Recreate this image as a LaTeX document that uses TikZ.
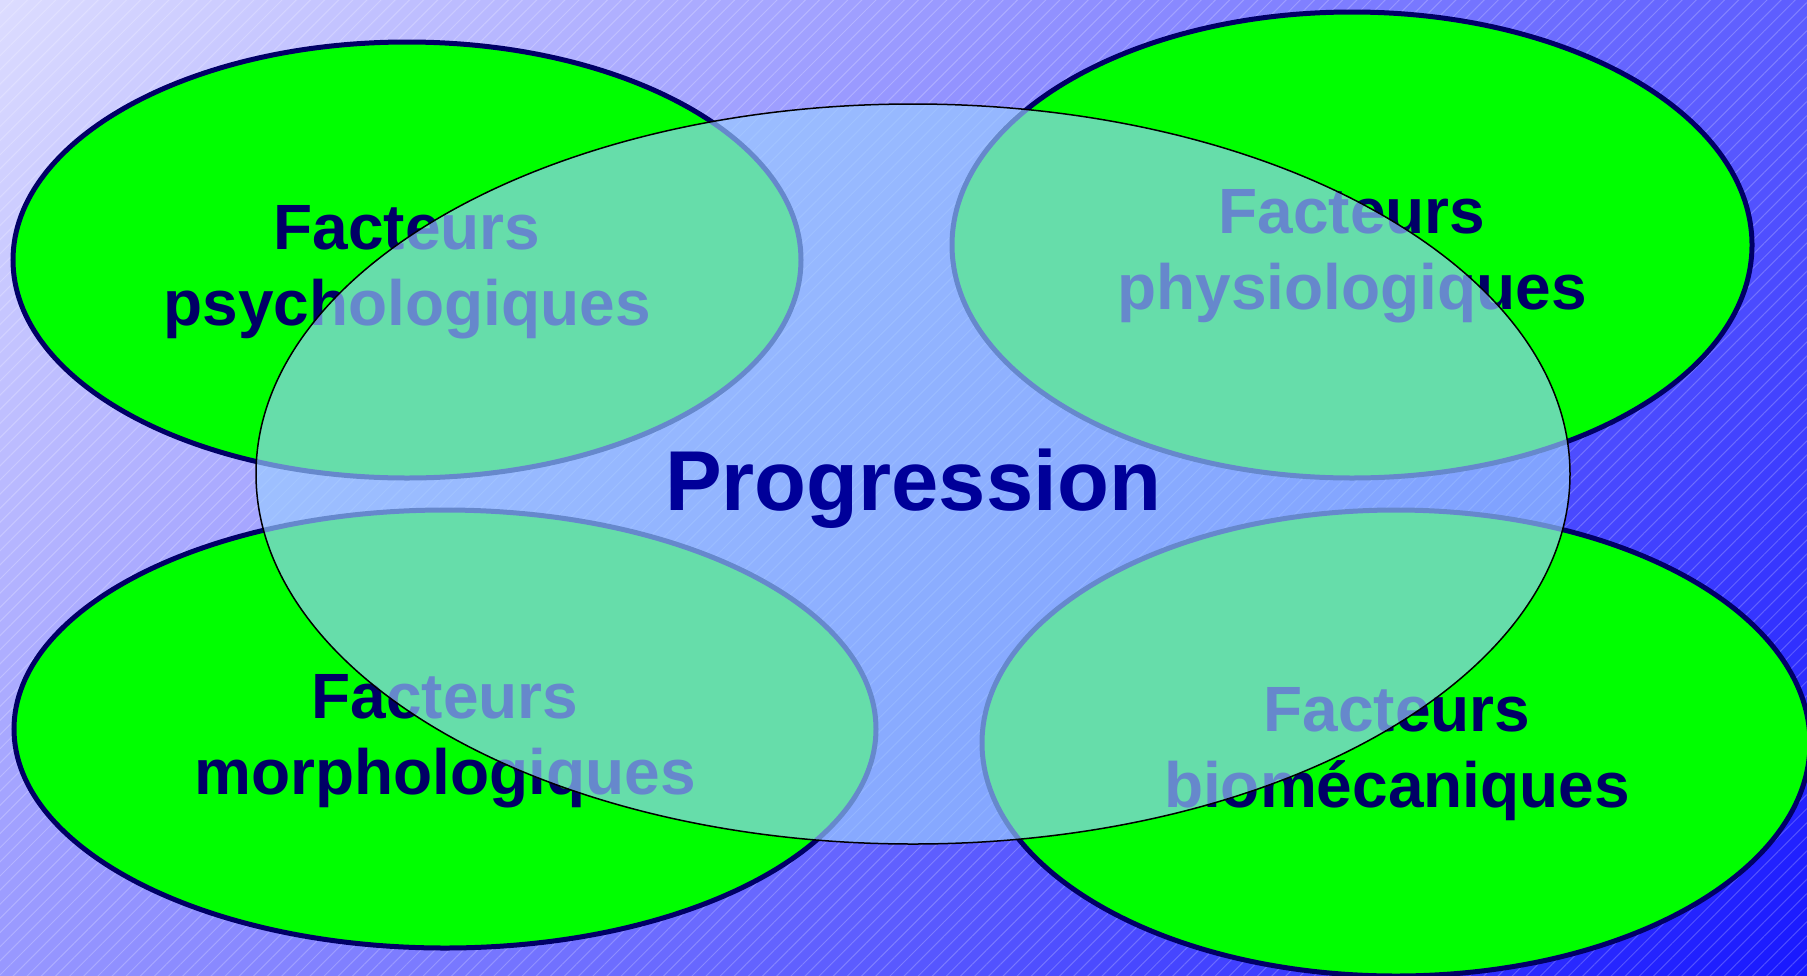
\documentclass[tikz,border=0pt]{standalone}
\usepackage{fontspec}
\setmainfont{Liberation Sans}
\usetikzlibrary{shapes.geometric,patterns.meta}

\definecolor{navy}{HTML}{000066}
\definecolor{progblue}{HTML}{000099}
\definecolor{veil}{HTML}{99CCFF}
\definecolor{bgtop}{HTML}{DCDCFF}
\definecolor{bgbot}{HTML}{1818FF}

\tikzset{
  facteur/.style={ellipse, draw=navy, line width=5pt, fill=green, inner sep=0pt},
  facteurtext/.style={text=navy, font=\fontsize{64}{76}\selectfont\bfseries, align=center},
}

\begin{document}
\begin{tikzpicture}[x=1pt,y=-1pt]
\useasboundingbox (0,0) rectangle (1807,975);
% fond
\begin{scope}
\clip (0,0) rectangle (1807,975);
\shade[top color=bgtop, bottom color=bgbot, shading angle=45] (903.5,487.5) ++(-983.5,-983.5) rectangle ++(1967,1967);
\fill[pattern={Lines[angle=45,distance=10pt,line width=1pt]}, pattern color=white, opacity=0.22] (0,0) rectangle (1807,975);
\end{scope}
% les quatre facteurs
\node[facteur, minimum width=788pt, minimum height=436pt] (psycho) at (407,260) {};
\node[facteur, minimum width=800pt, minimum height=466pt] (physio) at (1352,245) {};
\node[facteur, minimum width=862pt, minimum height=438pt] (morpho) at (445,729) {};
\node[facteur, minimum width=828pt, minimum height=466pt] (biomeca) at (1396,743) {};
\node[facteurtext] (psychotxt) at (407,272) {Facteurs\\psychologiques};
\node[facteurtext] (physiotxt) at (1352,256) {Facteurs\\physiologiques};
\node[facteurtext] (morphotxt) at (445,741) {Facteurs\\morphologiques};
\node[facteurtext] (biomecatxt) at (1397,754) {Facteurs\\biomécaniques};
% progression
\node[ellipse, draw=black, line width=1.5pt, fill=veil, fill opacity=0.667, inner sep=0pt,
      minimum width=1314pt, minimum height=740pt] (prog) at (913,474) {};
\node[anchor=base, text=progblue, font=\fontsize{85}{100}\selectfont\bfseries] (progtxt) at (913,510) {Progression};
\end{tikzpicture}
\end{document}
